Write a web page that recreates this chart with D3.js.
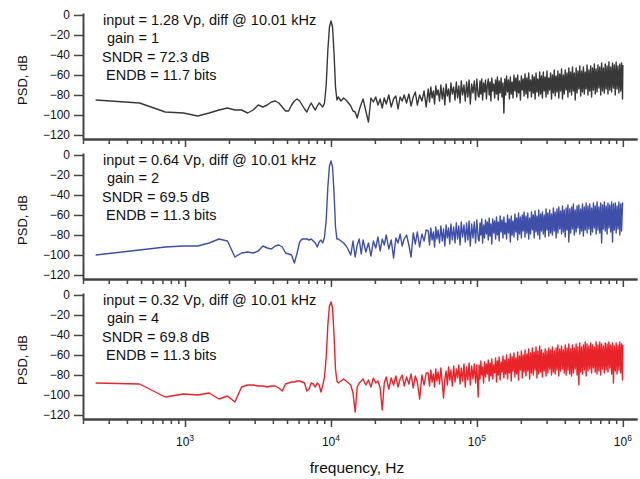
<html>
<head>
  <title>ADC output spectrum</title>
  <script src="https://d3js.org/d3.v7.min.js"></script>
  <style>
    body { margin: 0; background: #fff; }
    svg text { font-family: "Liberation Sans", Arial, Helvetica, sans-serif; fill: #111; }
    .axis path { stroke: #444; stroke-width: 2px; }
    .axis line { stroke: #444; stroke-width: 1.5px; }
    .trace { fill: none; stroke-width: 1.4px; stroke-linejoin: round; }
  </style>
</head>
<body>
<script>
// FFT bin spacing: 2 MS/s, 8192 points -> 244.14 Hz, Nyquist at bin 4096
var binHz = 1e6 / 4096;

var fftBins = [
  1,2,3,4,5,6,7,8,9,10,
  11,12,13,14,15,16,17,18,19,20,
  21,22,23,24,25,26,27,28,29,30,
  31,32,33,34,35,36,37,38,39,40,
  41,42,43,44,45,
  46,48,50,52,54,56,58,60,62,64,
  66,68,71,74,77,80,83,86,89,92,
  95,98,102,106,110,114,118,122,126,130,
  135,140,145,150,155,160,166,172,178,184,
  190,194,198,202,206,210,214,218,222,227,
  232,237,242,247,252,257,262,267,272,278,
  284,290,296,302,308,314,320,327,334,341,
  348,355,362,369,377,385,393,401,409,418,
  424,430,436,442,448,455,462,469,476,483,
  490,497,504,511,518,526,534,542,550,558,
  566,574,582,591,600,609,618,627,636,645,
  654,664,674,684,694,704,714,724,735,746,
  757,768,779,790,802,814,826,838,850,862,
  875,888,901,914,927,941,955,969,983,997,
  1011,1026,1041,1056,1071,1087,1103,1119,1135,1151,
  1168,1185,1202,1219,1237,1255,1273,1291,1310,1329,
  1348,1368,1388,1408,1428,1449,1470,1491,1513,1535,
  1557,1580,1603,1626,1650,1674,1698,1722,1747,1772,
  1798,1824,1850,1877,1904,1932,1960,1988,2017,2046,
  2076,2106,2136,2167,2198,2230,2262,2295,2328,2362,
  2396,2431,2466,2502,2538,2575,2612,2650,2688,2727,
  2767,2807,2847,2888,2930,2972,3015,3059,3103,3148,
  3193,3239,3286,3333,3381,3430,3480,3530,3581,3633,
  3685,3738,3792,3847,3903,3959,4016,4074,4096
];

var psdGain1 = [
  -85,-88,-97,-98,-101,-98,-95,-93,-95,-95,
  -98,-95,-90,-92,-90,-87,-86,-88,-92,-96,
  -96,-90,-86,-84,-86,-90,-94,-97,-92,-88,
  -92,-95,-91,-88,-90,-92,-88,-70,-35,-12,
  -6,-12,-38,-72,-85,
  -82,-86,-83,-85,-88,-91,-96,-97,-103,-95,
  -89,-84,-96,-107,-83,-87,-82,-90,-84,-93,
  -83,-89,-80,-92,-84,-81,-94,-82,-86,-80,
  -88,-79,-91,-82,-77,-90,-80,-86,-76,-92,
  -74,-87,-72,-83,-76,-89,-71,-80,-75,-86,
  -70,-84,-73,-90,-69,-81,-74,-87,-68,-79,
  -72,-85,-67,-83,-71,-88,-66,-80,-70,-86,
  -67,-82,-65,-89,-69,-78,-66,-85,-64,-81,
  -82,-66,-79,-64,-85,-68,-77,-65,-84,-70,
  -64,-80,-67,-86,-63,-76,-69,-83,-65,-79,
  -62,-85,-66,-78,-63,-82,-68,-98,-64,-80,
  -61,-77,-65,-84,-62,-79,-67,-83,-60,-76,
  -63,-82,-60,-78,-66,-85,-61,-75,-64,-81,
  -59,-79,-63,-83,-58,-76,-65,-82,-60,-78,
  -62,-84,-58,-77,-64,-81,-57,-79,-61,-83,
  -57,-76,-62,-82,-56,-79,-63,-75,-58,-84,
  -60,-78,-55,-81,-61,-77,-56,-83,-59,-76,
  -54,-84,-60,-79,-55,-75,-58,-82,-53,-77,
  -57,-80,-52,-76,-58,-85,-53,-78,-56,-74,
  -51,-81,-56,-77,-52,-79,-57,-74,-50,-80,
  -55,-76,-51,-82,-53,-75,-49,-79,-54,-77,
  -50,-73,-52,-80,-48,-76,-53,-78,-49,-74,
  -51,-79,-47,-75,-52,-77,-48,-73,-50,-80,
  -47,-74,-51,-78,-49,-76,-48,-84,-50
];

var psdGain2 = [
  -100,-95,-92,-91,-91,-88,-84,-86,-102,-98,
  -97,-98,-96,-91,-93,-94,-91,-90,-92,-98,
  -99,-100,-108,-98,-87,-84,-84,-84,-85,-84,
  -86,-88,-92,-87,-85,-88,-82,-65,-32,-11,
  -6,-12,-38,-72,-84,
  -84,-86,-88,-91,-95,-100,-86,-102,-90,-84,
  -99,-85,-97,-88,-101,-86,-93,-82,-96,-84,
  -90,-80,-94,-85,-103,-83,-88,-79,-91,-84,
  -80,-90,-102,-78,-89,-77,-92,-79,-86,-75,
  -76,-90,-73,-85,-77,-92,-72,-84,-75,-88,
  -71,-86,-74,-91,-70,-83,-73,-89,-69,-85,
  -72,-88,-68,-84,-71,-90,-67,-82,-70,-87,
  -68,-85,-66,-91,-69,-83,-67,-88,-65,-84,
  -86,-68,-80,-64,-88,-70,-83,-65,-79,-67,
  -85,-63,-81,-69,-89,-64,-78,-66,-84,-62,
  -80,-67,-86,-61,-77,-65,-83,-62,-79,-68,
  -84,-60,-78,-64,-87,-61,-80,-66,-82,-59,
  -77,-63,-85,-58,-79,-62,-83,-60,-76,-57,
  -82,-61,-78,-58,-84,-63,-79,-57,-75,-60,
  -83,-56,-77,-61,-80,-55,-84,-59,-76,-57,
  -79,-60,-82,-54,-75,-58,-81,-55,-78,-59,
  -80,-53,-76,-57,-83,-54,-78,-52,-74,-56,
  -79,-51,-77,-55,-82,-53,-75,-50,-87,-54,
  -78,-52,-74,-49,-80,-55,-77,-51,-73,-50,
  -79,-54,-76,-49,-81,-52,-75,-48,-78,-51,
  -74,-49,-80,-53,-77,-48,-73,-51,-79,-47,
  -75,-52,-78,-48,-88,-50,-74,-47,-76,-51,
  -79,-48,-73,-50,-77,-47,-87,-49,-75,-48,
  -78,-51,-74,-47,-80,-49,-76,-48,-50
];

var psdGain4 = [
  -88,-89,-102,-99,-100,-98,-104,-101,-107,-92,
  -90,-90,-91,-91,-92,-91,-91,-93,-96,-89,
  -88,-87,-87,-86,-86,-87,-88,-96,-94,-88,
  -89,-92,-88,-90,-97,-90,-82,-62,-30,-11,
  -7,-13,-40,-74,-86,
  -88,-86,-84,-86,-88,-90,-98,-117,-92,-88,
  -86,-84,-90,-85,-92,-83,-88,-86,-93,-115,
  -88,-82,-94,-83,-90,-81,-92,-84,-80,-91,
  -82,-89,-79,-93,-81,-87,-104,-80,-90,-78,
  -78,-91,-75,-87,-79,-92,-74,-86,-77,-89,
  -73,-88,-103,-84,-76,-90,-72,-85,-75,-91,
  -71,-87,-74,-83,-70,-89,-73,-86,-69,-92,
  -72,-85,-68,-90,-71,-84,-69,-88,-70,-102,
  -70,-84,-66,-80,-72,-88,-67,-82,-69,-79,
  -65,-86,-68,-81,-64,-84,-70,-78,-63,-87,
  -66,-80,-62,-85,-67,-77,-61,-83,-65,-79,
  -60,-84,-64,-78,-59,-86,-62,-76,-58,-82,
  -63,-79,-57,-85,-61,-75,-56,-83,-60,-77,
  -55,-81,-59,-76,-54,-84,-58,-78,-53,-80,
  -57,-75,-52,-83,-56,-79,-51,-77,-55,-82,
  -58,-76,-54,-81,-56,-78,-53,-74,-55,-80,
  -52,-77,-56,-79,-53,-75,-50,-81,-54,-76,
  -51,-74,-55,-78,-50,-80,-53,-75,-49,-79,
  -54,-81,-50,-78,-53,-74,-49,-80,-52,-90,
  -48,-77,-52,-79,-50,-75,-47,-81,-49,-76,
  -51,-74,-48,-78,-50,-73,-52,-77,-47,-79,
  -50,-76,-47,-80,-49,-74,-51,-78,-48,-75,
  -49,-77,-47,-73,-50,-79,-48,-88,-51,-76,
  -48,-79,-50,-75,-47,-78,-49,-85,-50
];

var panelNotes = [
  ["input = 1.28 Vp, diff @ 10.01 kHz", "gain = 1", "SNDR = 72.3 dB", "ENDB = 11.7 bits"],
  ["input = 0.64 Vp, diff @ 10.01 kHz", "gain = 2", "SNDR = 69.5 dB", "ENDB = 11.3 bits"],
  ["input = 0.32 Vp, diff @ 10.01 kHz", "gain = 4", "SNDR = 69.8 dB", "ENDB = 11.3 bits"]
];
var traceColors = ["#383838", "#3f4ea8", "#e8232a"];
var yTicks = [0, -20, -40, -60, -80, -100, -120];
var decadeTicks = [1e3, 1e4, 1e5, 1e6];
var decadeExponents = ["3", "4", "5", "6"];

var width = 640, height = 479;
var panelTop = [0, 140, 280];
var noteX = [103, 107, 102, 106];

var svg = d3.select("body").append("svg")
  .attr("width", width)
  .attr("height", height);

var x = d3.scaleLog()
  .domain([200, 1.25e6])
  .range([83, 637]);

var y = d3.scaleLinear()
  .domain([-124, 2])
  .range([139, 13]);

// minor ticks 2..9 per decade
var minorTicks = [];
[100, 1e3, 1e4, 1e5].forEach(function(dec) {
  for (var m = 2; m <= 9; m++) {
    var v = m * dec;
    if (v >= 200 && v < 1e6) minorTicks.push(v);
  }
});

var line = d3.line()
  .x(function(d) { return x(d.f); })
  .y(function(d) { return y(d.db); });

[psdGain1, psdGain2, psdGain4].forEach(function(psd, i) {
  var g = svg.append("g").attr("transform", "translate(0," + panelTop[i] + ")");

  var pts = fftBins.map(function(k, j) { return { f: k * binHz, db: psd[j] }; });

  g.append("path")
    .datum(pts)
    .attr("class", "trace")
    .attr("stroke", traceColors[i])
    .attr("d", line);

  // x axis
  var xg = g.append("g").attr("class", "axis").attr("transform", "translate(0,139)");
  xg.call(d3.axisBottom(x).tickValues(minorTicks).tickSize(5).tickSizeOuter(0).tickFormat(""));
  xg.append("g").call(d3.axisBottom(x).tickValues(decadeTicks).tickSize(8).tickSizeOuter(0).tickFormat(""));

  // y axis
  var yg = g.append("g").attr("class", "axis").attr("transform", "translate(83,0)");
  yg.call(d3.axisLeft(y).tickValues(yTicks).tickSize(9).tickPadding(4).tickSizeOuter(0)
    .tickFormat(function(d) { return d === 0 ? "0" : "\u2212" + Math.abs(d); }));
  yg.selectAll("text").attr("font-size", 12).attr("font-family", null).style("fill", "#111");

  g.append("text")
    .attr("transform", "translate(27,80) rotate(-90)")
    .attr("text-anchor", "middle")
    .attr("font-size", 13)
    .text("PSD, dB");

  panelNotes[i].forEach(function(s, j) {
    g.append("text")
      .attr("x", noteX[j])
      .attr("y", 25 + j * 18.4)
      .attr("font-size", 14.5)
      .text(s);
  });

  // decade labels only under the last panel
  if (i === 2) {
    decadeTicks.forEach(function(v, j) {
      var t = g.append("text")
        .attr("x", x(v))
        .attr("y", 166)
        .attr("text-anchor", "middle")
        .attr("font-size", 12);
      t.append("tspan").text("10");
      t.append("tspan").attr("dy", -5.5).attr("font-size", 8.5).text(decadeExponents[j]);
    });
  }
});

svg.append("text")
  .attr("x", 357)
  .attr("y", 473)
  .attr("text-anchor", "middle")
  .attr("font-size", 15.5)
  .text("frequency, Hz");
</script>
</body>
</html>
